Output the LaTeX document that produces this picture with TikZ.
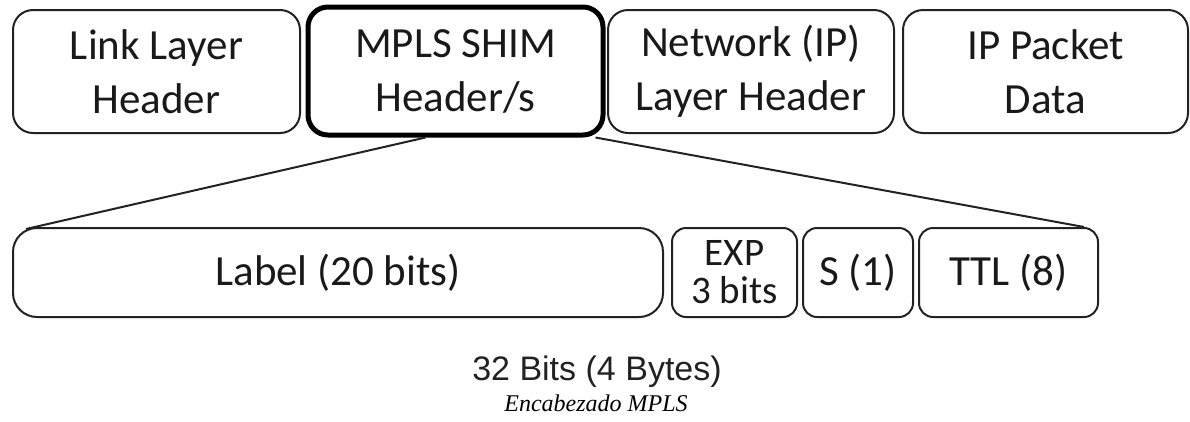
\documentclass[tikz,border=0pt]{standalone}
\usepackage{fontspec}
\setmainfont{Carlito}
\newfontfamily\arialfont{Liberation Sans}
\newfontfamily\timesfont{Liberation Serif}
\usetikzlibrary{calc}
\definecolor{mplsink}{RGB}{34,34,34}

\begin{document}
\begin{tikzpicture}[x=1pt,y=-1pt,
  field/.style={draw=mplsink, line width=2pt, rounded corners=20pt, align=center,
    text=black!90, inner sep=0pt, font=\fontsize{43}{54}\selectfont},
  bitfield/.style={field, rounded corners=14pt}]

\useasboundingbox (0,0) rectangle (1190,421);

% packet headers
\node[field, minimum width=287pt, minimum height=123pt] (link) at (156.5,71.5) {Link Layer\\Header};
\node[field, draw=black, line width=5pt, minimum width=295pt, minimum height=128pt] (mpls) at (455.5,71) {MPLS SHIM\\Header/s};
\node[field, minimum width=286pt, minimum height=123pt] (net) at (751,71.5) {Network (IP)\\Layer Header};
\node[field, minimum width=285pt, minimum height=123pt] (data) at (1045.5,71.5) {IP Packet\\Data};

% shim fields
\node[bitfield, rounded corners=24pt, minimum width=650pt, minimum height=89pt] (label) at (338,272.5) {Label (20 bits)};
\node[bitfield, minimum width=125pt, minimum height=89pt, font=\fontsize{39}{38}\selectfont] (exp) at (734.5,272.5) {EXP\\3 bits};
\node[bitfield, minimum width=110pt, minimum height=89pt] (s) at (858,272.5) {S (1)};
\node[bitfield, minimum width=179pt, minimum height=89pt] (ttl) at (1008.5,272.5) {TTL (8)};

\draw[mplsink, line width=2pt] ($(mpls.south west)!0.4!(mpls.south east)$) -- ($(label.north west)+(14,2)$);
\draw[mplsink, line width=2pt] ($(mpls.south east)+(-10,0)$) -- ($(ttl.north east)+(-15,0)$);

\node[text=mplsink, font=\arialfont\fontsize{34}{40}\selectfont] (bits) at (597,372) {32 Bits (4 Bytes)};
\node[font=\timesfont\itshape\fontsize{24}{28}\selectfont] (caption) at (596,403) {Encabezado MPLS};

\end{tikzpicture}
\end{document}
